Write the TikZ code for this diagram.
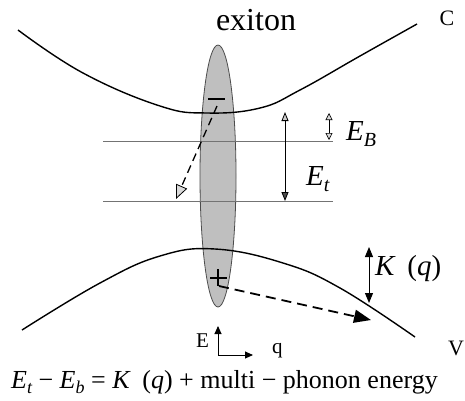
\documentclass[tikz,border=0pt]{standalone}
\usepackage{fontspec}
\setmainfont{Liberation Serif}
\usetikzlibrary{arrows.meta,shapes.geometric}
\newcommand{\mysub}[1]{\raisebox{-0.22em}{\fontsize{18}{20}\selectfont\itshape #1}}
\newcommand{\mybigsub}[1]{\raisebox{-0.22em}{\fontsize{20}{22}\selectfont\itshape #1}}
\begin{document}
\begin{tikzpicture}[x=1pt,y=-1pt,
  band/.style={line width=1.4pt},
  level/.style={draw=black!55,line width=0.9pt},
  lbl/.style={inner sep=0pt,anchor=base west,font=\fontsize{29}{32}\selectfont},
  eqlbl/.style={inner sep=0pt,anchor=base west,font=\fontsize{26}{30}\selectfont},
  small/.style={inner sep=0pt,anchor=base west,font=\fontsize{21}{24}\selectfont},
  dblarrow/.style={line width=0.8pt,{Triangle[length=9pt,width=7pt,fill=gray!40]}-{Triangle[length=9pt,width=7pt,fill=black!70]}},
  karrow/.style={line width=1pt,{Triangle[length=10pt,width=8pt]}-{Triangle[length=10pt,width=8pt]}},
  axis/.style={line width=0.9pt,-{Triangle[length=8pt,width=7pt]}}
]
\useasboundingbox (0,0) rectangle (465,400);
% exciton ellipse
\node[draw=black!70,line width=0.8pt,fill=black!25,ellipse,minimum width=36pt,minimum height=262pt,inner sep=0pt] (ex) at (218,176) {};
% levels
\coordinate (l1a) at (103,141); \coordinate (l1b) at (333,141);
\coordinate (l2a) at (103,201); \coordinate (l2b) at (333,201);
\draw[level] (l1a) -- (l1b);
\draw[level] (l2a) -- (l2b);
% conduction band
\draw[band] plot[smooth,tension=0.7] coordinates {(18,30) (83,73) (160,106) (207,113) (260,108) (300,90) (360,56) (417,24)};
% valence band
\draw[band] plot[smooth,tension=0.7] coordinates {(22,330) (100,283) (160,256) (215,249) (283,263) (340,288) (415,337)};
% electron and hole
\coordinate (m1) at (208,99); \coordinate (m2) at (225,99);
\draw[line width=1.6pt] (m1) -- (m2);
\coordinate (p1) at (210,278); \coordinate (p2) at (227,278);
\coordinate (p3) at (218,269); \coordinate (p4) at (218,286);
\draw[line width=1.6pt] (p1) -- (p2);
\draw[line width=1.6pt] (p3) -- (p4);
% dashed arrows
\coordinate (da1) at (217,106); \coordinate (da2) at (176,199);
\draw[line width=1.3pt,dash pattern=on 8pt off 5pt,-{Triangle[length=14pt,width=12pt,fill=gray!30,line width=0.8pt]}] (da1) -- (da2);
\coordinate (db1) at (219,286); \coordinate (db2) at (371,320);
\draw[line width=1.8pt,dash pattern=on 10pt off 6pt,-{Triangle[length=17pt,width=13pt]}] (db1) -- (db2);
% E_t arrow
\coordinate (et1) at (285,112); \coordinate (et2) at (285,201);
\draw[dblarrow] (et1) -- (et2);
% E_B arrow
\coordinate (eb1) at (329,113); \coordinate (eb2) at (329,140);
\draw[line width=0.6pt,{Triangle[length=7pt,width=7pt,fill=gray!30]}-{Triangle[length=7pt,width=7pt,fill=gray!30]}] (eb1) -- (eb2);
% K(q) arrow
\coordinate (k1) at (369,247); \coordinate (k2) at (369,303);
\draw[karrow] (k1) -- (k2);
% axes
\coordinate (o) at (218,355); \coordinate (ay) at (218,326); \coordinate (ax) at (253,355);
\draw[axis] (o) -- (ay);
\draw[axis] (o) -- (ax);
% labels
\node[inner sep=0pt,anchor=base,font=\fontsize{32}{36}\selectfont] (tex) at (256,30) {exiton};
\node[inner sep=0pt,anchor=base,font=\fontsize{22}{26}\selectfont] (tc) at (447,25) {C};
\node[inner sep=0pt,anchor=base,font=\fontsize{22}{26}\selectfont] (tv) at (456,355) {V};
\node[lbl] (teb) at (346,140) {\textit{E}\mybigsub{B}};
\node[lbl] (tet) at (306,185) {\textit{E}\mybigsub{t}};
\node[lbl] (tk) at (375,275) {\textit{K}\hspace{0.4em}(\textit{q})};
\node[small] (te) at (196,347) {E};
\node[small] (tq) at (272,353) {q};
\node[eqlbl] (eq) at (11,388) {\textit{E}\mysub{t} − \textit{E}\mysub{b} = \textit{K}\hspace{0.45em}(\textit{q}) + multi − phonon energy};
\end{tikzpicture}
\end{document}
